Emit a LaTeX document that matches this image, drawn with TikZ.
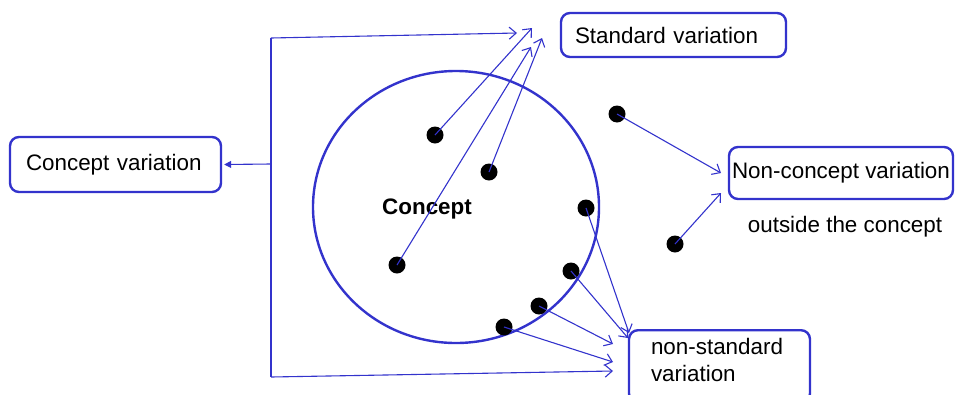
\documentclass[tikz,border=0pt]{standalone}
\usepackage{fontspec}
\setmainfont{Liberation Sans}
\usetikzlibrary{arrows.meta}
\definecolor{bl}{RGB}{51,51,204}
\begin{document}
\begin{tikzpicture}[x=1pt,y=-1pt,
  box/.style={draw=bl,line width=2.4pt,rounded corners=9pt,font=\fontsize{22.4}{27}\selectfont},
  lbl/.style={font=\fontsize{22.4}{27}\selectfont,inner sep=0pt},
  dot/.style={circle,fill=black,minimum size=17pt,inner sep=0pt},
  arr/.style={draw=bl,line width=1.1pt,-{Straight Barb[length=7pt,width=12pt]}},
  ln/.style={draw=bl,line width=1.1pt}]
\useasboundingbox (0,0) rectangle (955,394);
% concept circle
\draw[bl,line width=2.4pt] (456,207) ellipse [x radius=143,y radius=136];
\node[lbl,font=\fontsize{22.4}{27}\selectfont\bfseries] (concept) at (427,209) {Concept};
% boxes
\node[box,minimum height=44pt,text width=197pt,inner xsep=14pt,align=left] (std) at (673.5,35) {Standard variation};
\node[box,minimum height=55pt,text width=179pt,inner xsep=16pt,align=left] (cv) at (115.5,164.5) {Concept variation};
\node[box,minimum height=52pt,minimum width=224pt,inner xsep=2pt] (ncv) at (841,173) {Non-concept variation};
\node[lbl] (out) at (845,227) {outside the concept};
\node[box,anchor=north,text width=137pt,inner xsep=22pt,inner ysep=8pt,text depth=40pt,align=left] (nsv) at (719.5,329) {non-standard\\variation};
% dots
\node[dot] (d1) at (435,135) {};
\node[dot] (d2) at (489,172) {};
\node[dot] (d3) at (397,265) {};
\node[dot] (d4) at (586,208) {};
\node[dot] (d5) at (571,271) {};
\node[dot] (d6) at (539,306) {};
\node[dot] (d7) at (504,327) {};
\node[dot] (d8) at (617,114) {};
\node[dot] (d9) at (675,244) {};
% arrow end points
\coordinate (s1) at (532,28);
\coordinate (s2) at (542,38);
\coordinate (s3) at (531,47);
\coordinate (s0) at (517,33);
\coordinate (n1) at (629,333);
\coordinate (n2) at (628,338);
\coordinate (n3) at (613,344);
\coordinate (n4) at (613,362);
\coordinate (n0) at (613,371);
\coordinate (c1) at (721,173);
\coordinate (c2) at (721,193);
\coordinate (bt) at (271,38);
\coordinate (bm) at (271,164);
\coordinate (bb) at (271,377);
% bracket
\draw[ln] (bt) -- (bb);
\draw[arr] (bt) -- (s0);
\draw[arr] (bb) -- (n0);
\draw[ln,-{Triangle[length=7pt,width=7pt]}] (bm) -- ([xshift=2pt]cv.east);
% standard
\draw[arr] (d1.center) -- (s1);
\draw[arr] (d2.center) -- (s2);
\draw[arr] (d3.center) -- (s3);
% non-standard
\draw[arr] (d4.center) -- (n1);
\draw[arr] (d5.center) -- (n2);
\draw[arr] (d6.center) -- (n3);
\draw[arr] (d7.center) -- (n4);
% non-concept
\draw[arr] (d8.center) -- (c1);
\draw[arr] (d9.center) -- (c2);
\end{tikzpicture}
\end{document}
